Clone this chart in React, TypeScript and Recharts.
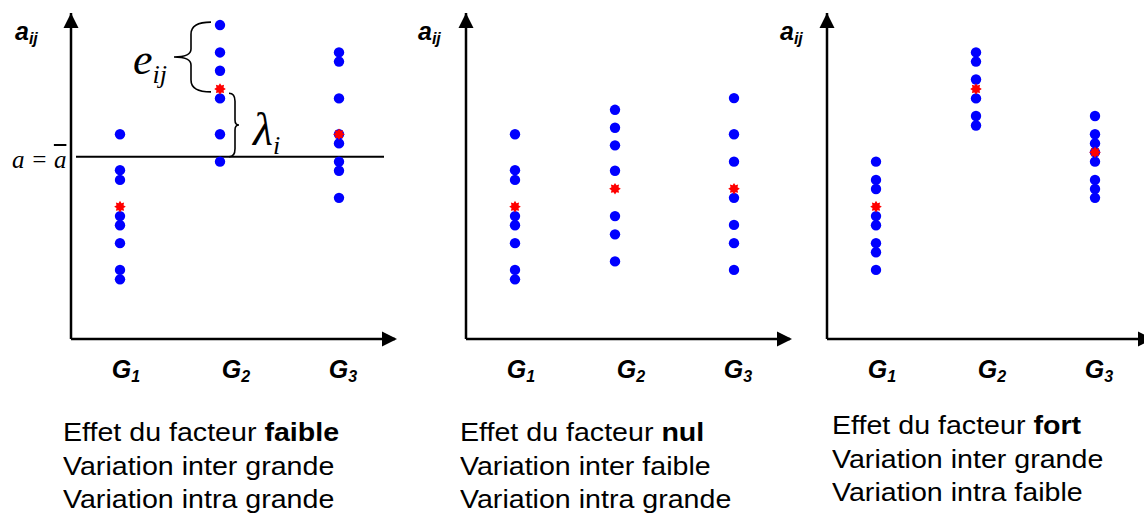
import React from 'react';
import {
    ScatterChart,
    Scatter,
    XAxis,
    YAxis,
    ReferenceLine,
    ReferenceDot
} from 'recharts';

// positions des groupes sur l'axe x et libellés
const groupX = [0.49, 1.49, 2.68];
const groupSubs = ['1', '2', '3'];

// effet faible
const faibleG1 = [62.8, 51.8, 48.8, 37.7, 34.9, 29.4, 21.2, 18.3];
const faibleG2 = [96.3, 87.9, 82.3, 73.8, 62.8, 54.4];
const faibleG3 = [87.9, 85.1, 73.8, 62.8, 60.0, 54.4, 51.6, 43.3];
const faibleMeans = [40.6, 76.7, 62.8];
const grandMean = 55.9;
const eBrace = [97.2, 75.8];
const lambdaBrace = [75.4, 55.9];

// effet nul
const nulG1 = [62.8, 51.8, 48.8, 37.7, 34.9, 29.4, 21.2, 18.3];
const nulG2 = [70.3, 64.8, 59.4, 51.6, 37.7, 32.1, 23.8];
const nulG3 = [73.9, 62.8, 54.4, 43.3, 35.0, 29.4, 21.2];
const nulMeans = [40.6, 46.1, 46.1];

// effet fort
const fortG1 = [54.4, 48.8, 46.0, 37.7, 34.9, 29.4, 26.6, 21.2];
const fortG2 = [87.9, 85.1, 79.6, 73.8, 68.4, 65.5];
const fortG3 = [68.4, 62.8, 60.0, 57.3, 54.4, 48.8, 46.0, 43.3];
const fortMeans = [40.6, 76.7, 57.3];

const faibleText = ['Effet du facteur ', 'faible', 'Variation inter grande', 'Variation intra grande'];
const nulText = ['Effet du facteur ', 'nul', 'Variation inter faible', 'Variation intra grande'];
const fortText = ['Effet du facteur ', 'fort', 'Variation inter grande', 'Variation intra faible'];

const X_MAX = 3.24;
const SANS = '"Liberation Sans", Arial, sans-serif';
const SERIF = '"Liberation Serif", "Times New Roman", serif';
// petit décalage des libellés G par rapport aux colonnes
const tickDx = [6, 16, 4];

const BlueDot = ({ cx, cy }: any) => <circle cx={cx} cy={cy} r={5.2} fill="#0000ff" />;

const RedStar = ({ cx, cy }: any) => {
    const pts: string[] = [];
    for (let i = 0; i < 16; i++) {
        const r = i % 2 === 0 ? 5.8 : 3.8;
        const a = (Math.PI / 8) * i - Math.PI / 2;
        pts.push(`${cx + r * Math.cos(a)},${cy + r * Math.sin(a)}`);
    }
    return <polygon points={pts.join(' ')} fill="#ff0000" />;
};

const ArrowUp = ({ cx, cy }: any) => (
    <polygon points={`${cx},${cy} ${cx - 7.5},${cy + 15} ${cx + 7.5},${cy + 15}`} fill="#000" />
);
const ArrowRight = ({ cx, cy }: any) => (
    <polygon points={`${cx + 2},${cy} ${cx - 13},${cy - 7.5} ${cx - 13},${cy + 7.5}`} fill="#000" />
);

const GroupTick = ({ x, y, payload, index }: any) => {
    const i = index ?? groupX.indexOf(payload.value);
    return (
        <g transform={`translate(${x + tickDx[i]},${y + 31})`}>
            <text
                x={0}
                y={0}
                textAnchor="middle"
                fontFamily={SANS}
                fontWeight="bold"
                fontStyle="italic"
                fontSize={25}
                fill="#000"
            >
                G<tspan fontSize={16} dy={4}>{groupSubs[i]}</tspan>
            </text>
        </g>
    );
};

// accolade "{" avec e_ij
const EBrace = (props: any) => {
    const { x1, y1, y2 } = props;
    const x = x1 - 9;
    const sx = x - 20;
    const tx = x - 37;
    const ym = (y1 + y2) / 2;
    const d = `M${x},${y1} Q${sx},${y1} ${sx},${y1 + 12} L${sx},${ym - 8} Q${sx},${ym} ${tx},${ym} Q${sx},${ym} ${sx},${ym + 8} L${sx},${y2 - 12} Q${sx},${y2} ${x},${y2}`;
    return (
        <g>
            <path d={d} fill="none" stroke="#000" strokeWidth={1.6} />
            <text x={tx - 41} y={ym + 17} fontFamily={SERIF} fontStyle="italic" fontSize={44} fill="#000">
                e<tspan fontSize={26} dy={9}>ij</tspan>
            </text>
        </g>
    );
};

// accolade "}" avec lambda_i
const LambdaBrace = (props: any) => {
    const { x1, y1, y2 } = props;
    const x = x1 + 9;
    const sx = x + 6;
    const tx = x + 10;
    const ym = (y1 + y2) / 2;
    const d = `M${x},${y1} Q${sx},${y1} ${sx},${y1 + 8} L${sx},${ym - 5} Q${sx},${ym} ${tx},${ym} Q${sx},${ym} ${sx},${ym + 5} L${sx},${y2 - 8} Q${sx},${y2} ${x},${y2}`;
    return (
        <g>
            <path d={d} fill="none" stroke="#000" strokeWidth={1.6} />
            <text x={tx + 14} y={ym + 20} fontFamily={SERIF} fontStyle="italic" fontSize={46} fill="#000">
                λ<tspan fontSize={26} dy={9}>i</tspan>
            </text>
        </g>
    );
};

const toPoints = (groups: number[][]) =>
    groups.flatMap((vals, i) => vals.map((v) => ({ x: groupX[i], y: v })));

const toMeans = (means: number[]) => means.map((v, i) => ({ x: groupX[i], y: v }));

interface PanelProps {
    left: number;
    groups: number[][];
    means: number[];
    text: string[];
    textLeft: number;
    textTop: number;
    labelLeft: number;
    annotated?: boolean;
}

const Panel = ({ left, groups, means, text, textLeft, textTop, labelLeft, annotated }: PanelProps) => (
    <>
        <div style={{ position: 'absolute', left, top: 0 }}>
            <ScatterChart width={400} height={400} margin={{ top: 13, right: 5, bottom: 0, left: 71 }}>
                <XAxis
                    type="number"
                    dataKey="x"
                    domain={[0, X_MAX]}
                    ticks={groupX}
                    interval={0}
                    tick={<GroupTick />}
                    tickLine={false}
                    axisLine={{ stroke: '#000', strokeWidth: 2.5 }}
                    height={61}
                    allowDataOverflow
                />
                <YAxis
                    type="number"
                    dataKey="y"
                    domain={[0, 100]}
                    width={0}
                    tick={false}
                    tickLine={false}
                    axisLine={false}
                    allowDataOverflow
                />
                <ReferenceLine x={0} stroke="#000" strokeWidth={2.5} />
                {annotated && (
                    <ReferenceLine
                        segment={[{ x: 0.05, y: grandMean }, { x: 3.13, y: grandMean }]}
                        stroke="#000"
                        strokeWidth={2}
                    />
                )}
                {annotated && (
                    <ReferenceLine
                        segment={[{ x: groupX[1], y: eBrace[0] }, { x: groupX[1], y: eBrace[1] }]}
                        shape={<EBrace />}
                        ifOverflow="visible"
                    />
                )}
                {annotated && (
                    <ReferenceLine
                        segment={[{ x: groupX[1], y: lambdaBrace[0] }, { x: groupX[1], y: lambdaBrace[1] }]}
                        shape={<LambdaBrace />}
                        ifOverflow="visible"
                    />
                )}
                <Scatter data={toPoints(groups)} shape={<BlueDot />} isAnimationActive={false} />
                <Scatter data={toMeans(means)} shape={<RedStar />} isAnimationActive={false} />
                <ReferenceDot x={0} y={100} shape={<ArrowUp />} ifOverflow="visible" />
                <ReferenceDot x={X_MAX} y={0} shape={<ArrowRight />} ifOverflow="visible" />
            </ScatterChart>
        </div>
        <div
            style={{
                position: 'absolute',
                left: labelLeft,
                top: 17,
                fontFamily: SANS,
                fontWeight: 'bold',
                fontStyle: 'italic',
                fontSize: 25,
                lineHeight: '28px',
                whiteSpace: 'nowrap'
            }}
        >
            a<span style={{ fontSize: 16, position: 'relative', top: 4 }}>ij</span>
        </div>
        <div
            style={{
                position: 'absolute',
                left: textLeft,
                top: textTop,
                fontFamily: SANS,
                fontSize: 26,
                lineHeight: '33.5px',
                whiteSpace: 'nowrap',
                transform: 'scaleX(1.1)',
                transformOrigin: 'left top'
            }}
        >
            <div>
                {text[0]}
                <b>{text[1]}</b>
            </div>
            <div>{text[2]}</div>
            <div>{text[3]}</div>
        </div>
    </>
);

export default function App() {
    return (
        <div
            style={{
                position: 'absolute',
                left: 0,
                top: 0,
                width: 1144,
                height: 518,
                background: '#fff',
                overflow: 'hidden',
                color: '#000'
            }}
        >
            <Panel
                left={0}
                groups={[faibleG1, faibleG2, faibleG3]}
                means={faibleMeans}
                text={faibleText}
                textLeft={63}
                textTop={416}
                labelLeft={15}
                annotated
            />
            <div
                style={{
                    position: 'absolute',
                    left: 12,
                    top: 145,
                    fontFamily: SERIF,
                    fontStyle: 'italic',
                    fontSize: 25,
                    lineHeight: '30px',
                    whiteSpace: 'nowrap'
                }}
            >
                a = <span style={{ textDecoration: 'overline' }}>a</span>
            </div>
            <Panel
                left={395}
                groups={[nulG1, nulG2, nulG3]}
                means={nulMeans}
                text={nulText}
                textLeft={460}
                textTop={416}
                labelLeft={418}
            />
            <Panel
                left={756}
                groups={[fortG1, fortG2, fortG3]}
                means={fortMeans}
                text={fortText}
                textLeft={832}
                textTop={409}
                labelLeft={780}
            />
        </div>
    );
}
